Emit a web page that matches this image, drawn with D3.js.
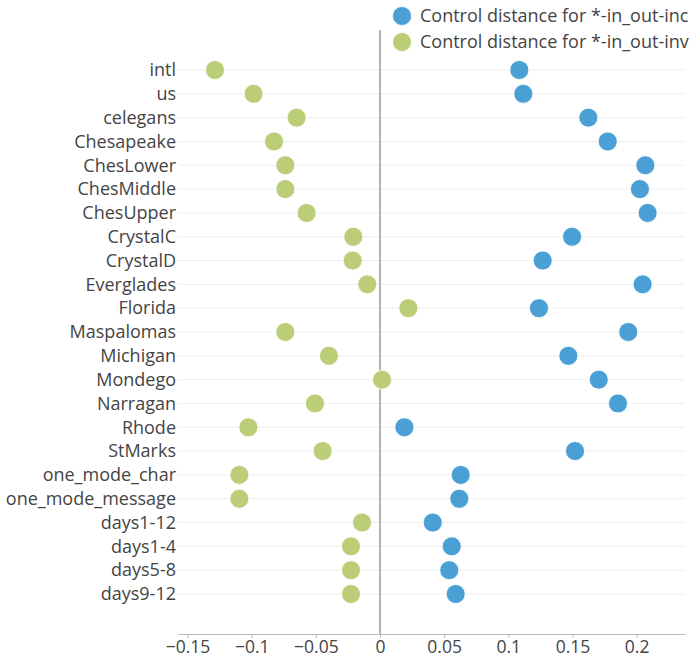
<!DOCTYPE html>
<html><head><meta charset="utf-8">
<script src="https://cdn.jsdelivr.net/npm/d3@7"></script>
<style>body{margin:0;background:#fff;overflow:hidden;}svg{display:block;font-family:"Open Sans",sans-serif;}</style>
</head><body><svg id="c" width="690" height="663"></svg>
<script>
const categories = ["intl","us","celegans","Chesapeake","ChesLower","ChesMiddle","ChesUpper","CrystalC","CrystalD","Everglades","Florida","Maspalomas","Michigan","Mondego","Narragan","Rhode","StMarks","one_mode_char","one_mode_message","days1-12","days1-4","days5-8","days9-12"];
const incValues = [0.1086,0.1117,0.1624,0.1775,0.2068,0.2026,0.2086,0.1497,0.1268,0.2047,0.1239,0.1935,0.1468,0.1705,0.1855,0.0190,0.1520,0.0629,0.0618,0.0411,0.0559,0.0540,0.0590];
const invValues = [-0.1286,-0.0985,-0.0650,-0.0826,-0.0738,-0.0738,-0.0572,-0.0208,-0.0213,-0.0099,0.0221,-0.0738,-0.0398,0.0016,-0.0507,-0.1026,-0.0447,-0.1096,-0.1096,-0.0140,-0.0226,-0.0226,-0.0226];
const seriesNames = ["Control distance for *-in_out-inc","Control distance for *-in_out-inv"];
const xTicks = [-0.15,-0.1,-0.05,0,0.05,0.1,0.15,0.2];

(function(){
const colors = ["#4a9fd4","#bccd78"];
const svg = d3.select("#c");
const pLeft = 178, pRight = 685, pTop = 30, pBottom = 634;
const x = d3.scaleLinear().domain([(pLeft-380)/1283,(pRight-380)/1283]).range([pLeft,pRight]);
const y = d3.scalePoint().domain(categories).range([pTop,pBottom]).padding(1.68);

svg.append("g").selectAll("line").data(categories).join("line")
  .attr("x1",pLeft).attr("x2",pRight).attr("y1",d=>y(d)).attr("y2",d=>y(d))
  .attr("stroke","#eeeeee").attr("stroke-width",1);

svg.append("line").attr("x1",x(0)).attr("x2",x(0)).attr("y1",pTop).attr("y2",pBottom)
  .attr("stroke","#999").attr("stroke-width",1.5);

const fmt = v => v===0 ? "0" : d3.format("")(v).replace("-","\u2212");
const xAxis = svg.append("g").attr("transform",`translate(0,${pBottom})`)
  .call(d3.axisBottom(x).tickValues(xTicks).tickFormat(fmt).tickSize(4).tickSizeOuter(0).tickPadding(3));
xAxis.select(".domain").attr("stroke","#bbb").attr("stroke-width",1);
xAxis.selectAll(".tick line").attr("stroke","#bbb");
xAxis.selectAll("text").attr("fill","#444").style("font-size","17.5px").style("font-family","'Open Sans',sans-serif");

const yAxis = svg.append("g").attr("transform",`translate(${pLeft},0)`)
  .call(d3.axisLeft(y).tickSize(0).tickPadding(2));
yAxis.select(".domain").remove();
yAxis.selectAll("text").attr("fill","#444").style("font-size","18px").style("font-family","'Open Sans',sans-serif");

const series = [incValues, invValues];
series.forEach((vals,i)=>{
  svg.append("g").selectAll("circle").data(categories).join("circle")
    .attr("cx",(d,j)=>x(vals[j])).attr("cy",d=>y(d)).attr("r",9.5)
    .attr("fill",colors[i]).attr("stroke","#fff").attr("stroke-width",0.8);
});

const lg = svg.append("g");
seriesNames.forEach((n,i)=>{
  const ly = 16 + i*26;
  lg.append("circle").attr("cx",402).attr("cy",ly).attr("r",9.5).attr("fill",colors[i]).attr("stroke","#fff").attr("stroke-width",0.8);
  lg.append("text").attr("x",420).attr("y",ly).attr("dy","0.35em").attr("fill","#444")
    .style("font-size","18px").text(n);
});
})();
</script></body></html>
